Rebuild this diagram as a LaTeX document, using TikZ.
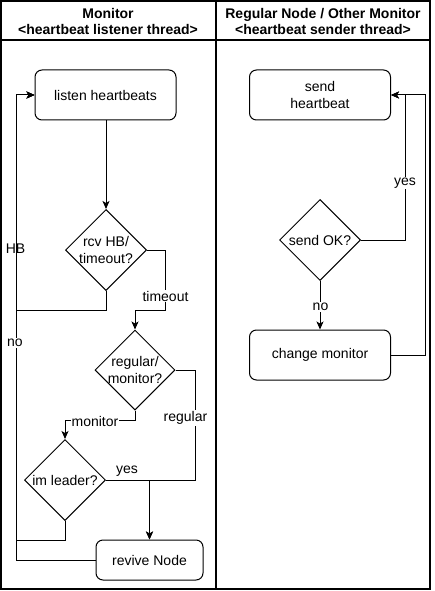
\documentclass[tikz,border=0pt]{standalone}
\usepackage{fontspec}
\setmainfont{Liberation Sans}
\usetikzlibrary{shapes.geometric,arrows.meta}
\begin{document}
\begin{tikzpicture}[x=1pt,y=-1pt,line width=1pt,
  font=\fontsize{14}{16.5}\selectfont,
  box/.style={draw,rounded corners=7pt,minimum width=141pt,minimum height=50pt,align=center,inner sep=0pt},
  dec/.style={draw,diamond,minimum width=81pt,minimum height=81pt,inner sep=0pt},
  txt/.style={align=center,inner sep=0pt},
  lbl/.style={fill=white,inner sep=1pt},
  plain/.style={inner sep=1pt},
  arr/.style={-{Stealth[length=8pt,width=7pt,inset=2pt]}},
  frame/.style={line width=1.2pt}]
\useasboundingbox (0,0) rectangle (434,591);
% swimlanes
\draw[frame] (1,1) rectangle (430,589);
\draw[frame] (216,1) -- (216,589);
\draw[frame] (1,40) -- (430,40);
\node[txt,font=\fontsize{14}{16.5}\selectfont\bfseries] (h1) at (108,21.5) {Monitor\\\char`\<heartbeat listener thread\char`\>};
\node[txt,font=\fontsize{14}{16.5}\selectfont\bfseries] (h2) at (323,21.5) {Regular Node / Other Monitor\\\char`\<heartbeat sender thread\char`\>};
% left nodes
\node[box] (listen) at (105.5,95) {listen heartbeats};
\node[dec] (d1) at (106,250) {};
\node[txt] (t1) at (d1) {rcv HB/\\timeout?};
\node[dec,minimum width=80pt,minimum height=80pt] (d2) at (135,370) {};
\node[txt] (t2) at (d2) {regular/\\monitor?};
\node[dec] (d3) at (65,480) {};
\node[txt] (t3) at (d3) {im leader?};
\node[box,minimum width=107pt,minimum height=40pt] (revive) at (149.5,560) {revive Node};
% right nodes
\node[box] (send) at (320,95) {send\\heartbeat};
\node[dec] (d4) at (320,240) {};
\node[txt] (t4) at (d4) {send OK?};
\node[box] (change) at (320,355) {change monitor};
% HB label (line passes over it)
\node[plain] (lHB) at (15.5,249) {HB};
% left connectors
\draw[arr] (listen.south -| d1.north) -- (d1.north);
\draw[arr] (d1.south) -- (106,310) -- (16,310) -- (16,95) -- (listen.west);
\draw[arr] (d1.east) -- (165,250) -- (165,310) -- (135,310) -- (d2.north);
\draw[arr] (d2.east) -- (195,370) -- (195,480) -- (149.5,480) -- (revive.north);
\draw[arr] (d2.south) -- (135,420) -- (65,420) -- (d3.north);
\draw[arr] (d3.east) -- (149.5,480) -- (revive.north);
\draw[arr] (d3.south) -- (65,540) -- (16,540) -- (16,95) -- (listen.west);
\draw[arr] (revive.west) -- (16,560) -- (16,95) -- (listen.west);
% right connectors
\draw[arr] (d4.east) -- (405,240) -- (405,95) -- (send.east);
\draw[arr] (d4.south) -- (change.north);
\draw[arr] (change.east) -- (425,355) -- (425,95) -- (send.east);
% labels
\node[lbl] (ltimeout) at (165.5,296) {timeout};
\node[lbl] (lregular) at (185.5,418) {regular};
\node[lbl] (lmonitor) at (95,421) {monitor};
\node[plain] (lyes1) at (127,471) {yes};
\node[lbl] (lno1) at (15,343) {no};
\node[lbl] (lyes2) at (405,183) {yes};
\node[lbl] (lno2) at (320.5,307) {no};
\end{tikzpicture}
\end{document}
